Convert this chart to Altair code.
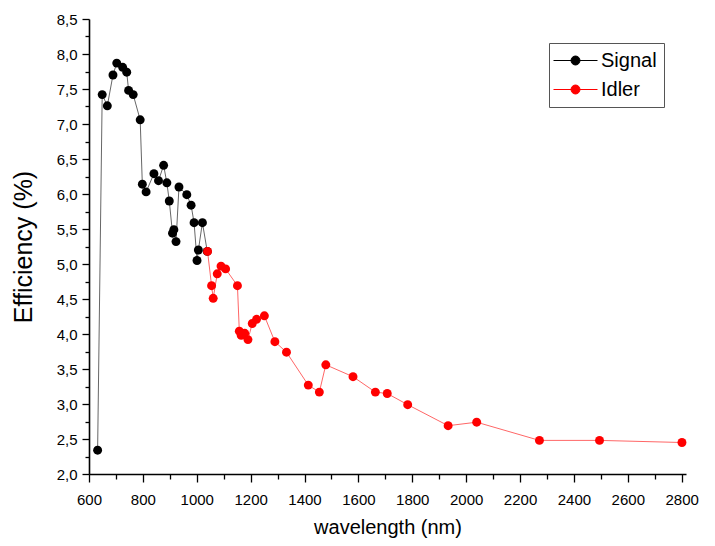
import altair as alt
import pandas as pd

series_names = ["Signal", "Idler"]
series_colors = ["#000000", "#ff0000"]

signal_wl = [632, 649, 668, 689, 703, 725, 740, 747, 764, 790, 798, 812, 841, 858,
             877, 889, 898, 910, 915, 923, 934, 963, 979, 990, 1001, 1006, 1021, 1039]
signal_eff = [2.34, 7.42, 7.26, 7.70, 7.87, 7.81, 7.74, 7.48, 7.42, 7.06, 6.14, 6.03, 6.29, 6.19,
              6.41, 6.16, 5.90, 5.44, 5.49, 5.32, 6.10, 5.99, 5.84, 5.59, 5.05, 5.20, 5.59, 5.18]

idler_wl = [1040, 1055, 1061, 1076, 1090, 1107, 1151, 1158, 1165, 1178, 1190, 1206, 1222, 1251,
            1290, 1333, 1414, 1455, 1479, 1580, 1663, 1707, 1783, 1933, 2039, 2272, 2495, 2801]
idler_eff = [5.18, 4.69, 4.51, 4.86, 4.97, 4.93, 4.69, 4.04, 3.98, 4.01, 3.92, 4.15, 4.21, 4.26,
             3.89, 3.74, 3.27, 3.17, 3.56, 3.39, 3.17, 3.15, 2.99, 2.69, 2.74, 2.48, 2.48, 2.45]

x_ticks = list(range(600, 2801, 100))
y_ticks = [2.0 + 0.25 * i for i in range(27)]

df = pd.concat([
    pd.DataFrame({"wl": signal_wl, "eff": signal_eff, "series": "Signal", "k": 0}),
    pd.DataFrame({"wl": idler_wl, "eff": idler_eff, "series": "Idler", "k": 1}),
], ignore_index=True)

FONT = "Liberation Sans"

x_enc = alt.X(
    "wl:Q",
    scale=alt.Scale(domain=[600, 2816], nice=False, zero=False),
    axis=alt.Axis(
        values=x_ticks,
        format="d",
        labelExpr="datum.value % 200 == 0 ? datum.label : ''",
        tickSize={"condition": {"test": "datum.value % 200 == 0", "value": 8}, "value": 5},
        title="wavelength (nm)",
        titleFontSize=20,
        titleFontWeight="normal",
        titlePadding=10,
        labelFontSize=15,
        labelPadding=10,
        labelFlush=False,
        labelOverlap=False,
        grid=False,
    ),
)
y_enc = alt.Y(
    "eff:Q",
    scale=alt.Scale(domain=[2.0, 8.5], nice=False, zero=False),
    axis=alt.Axis(
        values=y_ticks,
        labelExpr="datum.value % 0.5 == 0 ? replace(format(datum.value, '.1f'), '.', ',') : ''",
        tickSize={"condition": {"test": "datum.value % 0.5 == 0", "value": 7}, "value": 4},
        title="Efficiency (%)",
        titleFontSize=25,
        titleFontWeight="normal",
        titlePadding=20,
        labelFontSize=15,
        labelPadding=5,
        labelFlush=False,
        labelOverlap=False,
        grid=False,
    ),
)

color_enc = alt.Color(
    "series:N",
    scale=alt.Scale(domain=series_names, range=series_colors),
    legend=alt.Legend(
        title=None,
        orient="none",
        legendX=460,
        legendY=24,
        padding=7,
        strokeColor="#555555",
        symbolType="M-2.2,0L2.2,0M0.45,0A0.45,0.45,0,1,1,-0.45,0A0.45,0.45,0,1,1,0.45,0Z",
        symbolSize=400,
        symbolOffset=9,
        symbolStrokeWidth=1,
        symbolOpacity=1,
        labelFontSize=20,
        labelFont=FONT,
        labelOffset=15,
        rowPadding=8,
    ),
)

lines = alt.Chart(df).mark_line(strokeWidth=1, opacity=0.6).encode(
    x=x_enc, y=y_enc, color=color_enc, detail="series:N", order="wl:Q"
)
points = alt.Chart(df).mark_point(filled=True, size=80, opacity=1).encode(
    x=x_enc, y=y_enc, color=color_enc, order="k:Q"
)

chart = alt.layer(lines, points).properties(
    width=597,
    height=455,
    autosize=alt.AutoSizeParams(type="none"),
    padding={"left": 81, "top": 11, "right": 21, "bottom": 64},
    background="white",
).configure_view(strokeWidth=0).configure_axis(
    domainColor="#000000",
    domainWidth=1.6,
    tickColor="#000000",
    tickWidth=1.3,
    labelColor="#000000",
    titleColor="#000000",
    labelFont=FONT,
    titleFont=FONT,
)

chart.save("out.html", embed_options={"renderer": "svg", "actions": False})
